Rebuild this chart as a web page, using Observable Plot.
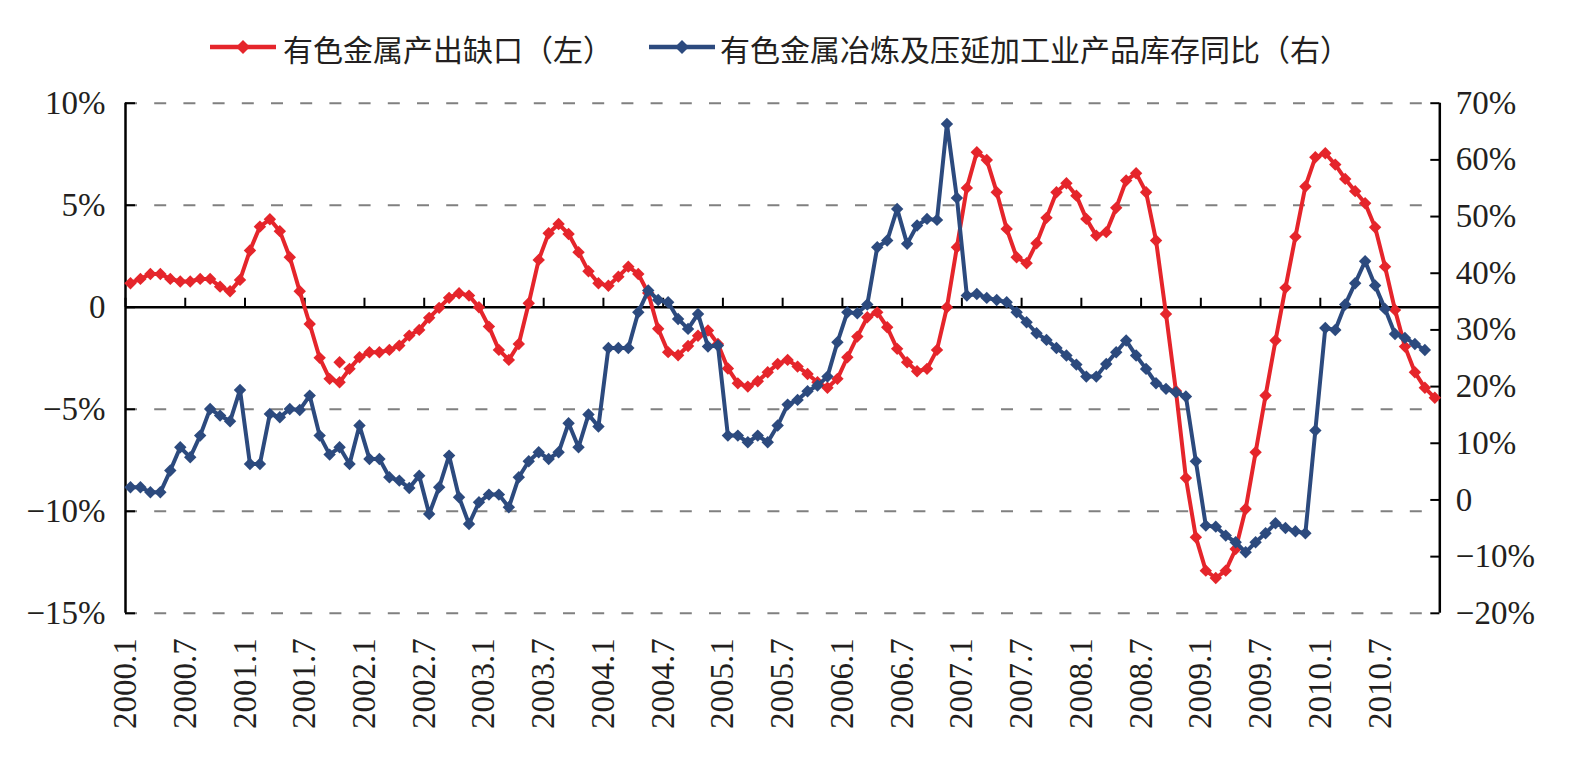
<!DOCTYPE html>
<html>
<head>
<meta charset="utf-8">
<script src="https://cdn.jsdelivr.net/npm/d3@7"></script>
<script src="https://cdn.jsdelivr.net/npm/@observablehq/plot@0.6"></script>
<style>
  html, body { margin: 0; padding: 0; background: #ffffff; }
  #page { width: 1572px; height: 757px; position: relative; overflow: hidden; }
  #legend { position: relative; height: 70px; font-family: "Noto Sans CJK SC", sans-serif; font-size: 30px; line-height: 30px; color: #231f20; }
  #legend .swatch { position: absolute; top: 37px; }
  #legend .label { position: absolute; top: 33px; white-space: nowrap; }
</style>
</head>
<body>
<div id="page">
  <div id="legend"></div>
  <div id="chart"></div>
</div>
<script>
// Monthly categories, 2000.1 – 2010.12
const years = [2000, 2001, 2002, 2003, 2004, 2005, 2006, 2007, 2008, 2009, 2010];
const months = [];
for (const y of years) for (let m = 1; m <= 12; m++) months.push(`${y}.${m}`);

// Series names
const seriesNames = ["有色金属产出缺口（左）", "有色金属冶炼及压延加工业产品库存同比（右）"];

// Non-ferrous metals output gap, % (left axis), 2000.1 – 2010.12
const outputGap = [
  1.18, 1.39, 1.63, 1.63, 1.39, 1.26, 1.26, 1.39, 1.39, 1.01, 0.78, 1.34,
  2.78, 3.95, 4.31, 3.73, 2.45, 0.78, -0.82, -2.48, -3.51, -3.68, -3.02, -2.45,
  -2.21, -2.21, -2.09, -1.88, -1.39, -1.11, -0.52, -0.03, 0.46, 0.69, 0.57, 0.00,
  -0.95, -2.09, -2.58, -1.80, 0.20, 2.32, 3.63, 4.08, 3.59, 2.70, 1.76, 1.18,
  1.05, 1.50, 1.99, 1.63, 0.70, -1.05, -2.20, -2.35, -1.90, -1.40, -1.14, -1.80,
  -3.00, -3.73, -3.89, -3.63, -3.19, -2.78, -2.58, -2.91, -3.27, -3.68, -3.95, -3.51,
  -2.45, -1.44, -0.49, -0.25, -0.98, -2.04, -2.70, -3.14, -3.02, -2.09, 0.00, 2.94,
  5.85, 7.60, 7.22, 5.64, 3.84, 2.45, 2.16, 3.14, 4.38, 5.64, 6.08, 5.47,
  4.33, 3.51, 3.68, 4.87, 6.21, 6.57, 5.64, 3.27, -0.33, -4.10, -8.37, -11.27,
  -12.91, -13.27, -12.91, -11.85, -9.89, -7.11, -4.33, -1.63, 0.95, 3.46, 5.92, 7.35,
  7.55, 6.99, 6.29, 5.69, 5.10, 3.92, 1.99, -0.13, -1.93, -3.19, -3.95, -4.44
];

// A lone output-gap marker drawn off the line
const outputGapLoneMarker = [{month: "2001.10", value: -2.70}];

// Inventory YoY of non-ferrous smelting & rolling products, % (right axis), 2000.1 – 2010.11
const inventoryYoY = [
  2.24, 2.24, 1.35, 1.35, 5.18, 9.29, 7.53, 11.35, 16.06, 14.88, 13.88, 19.41,
  6.35, 6.35, 15.18, 14.59, 16.06, 15.88, 18.41, 11.35, 8.00, 9.29, 6.35, 13.12,
  7.24, 7.24, 4.00, 3.41, 2.12, 4.29, -2.47, 2.24, 7.82, 0.47, -4.24, -0.41,
  0.94, 0.94, -1.29, 4.00, 6.82, 8.41, 7.24, 8.41, 13.53, 9.29, 15.06, 12.94,
  26.82, 26.82, 26.82, 33.12, 36.94, 35.29, 34.88, 31.94, 30.18, 32.82, 27.06, 27.24,
  11.35, 11.35, 10.18, 11.35, 10.18, 13.12, 16.82, 17.65, 19.18, 20.18, 21.76, 27.82,
  33.12, 32.94, 34.47, 44.59, 45.76, 51.35, 45.18, 48.41, 49.59, 49.41, 66.35, 53.29,
  36.06, 36.35, 35.65, 35.29, 34.88, 33.12, 31.35, 29.41, 28.24, 26.82, 25.47, 23.88,
  21.76, 21.76, 24.00, 26.06, 28.12, 25.47, 23.12, 20.59, 19.60, 19.00, 18.24, 6.82,
  -4.53, -4.71, -6.29, -7.47, -9.24, -7.47, -5.88, -4.12, -4.94, -5.53, -5.88, 12.24,
  30.35, 30.00, 34.47, 38.24, 42.12, 37.82, 33.71, 29.29, 28.59, 27.53, 26.47
];

// Axis ticks
const xTickLabels = [
  "2000.1", "2000.7", "2001.1", "2001.7", "2002.1", "2002.7", "2003.1", "2003.7",
  "2004.1", "2004.7", "2005.1", "2005.7", "2006.1", "2006.7", "2007.1", "2007.7",
  "2008.1", "2008.7", "2009.1", "2009.7", "2010.1", "2010.7"
];
const leftTicks = [-15, -10, -5, 0, 5, 10];
const rightTicks = [-20, -10, 0, 10, 20, 30, 40, 50, 60, 70];

const RED = "#e5252b";
const BLUE = "#2c4a7e";

// Right-axis values are mapped onto the left scale
const leftDomain = [-15, 10];
const rightDomain = [-20, 70];
const toLeft = (r) => leftDomain[0] + (r - rightDomain[0]) * (leftDomain[1] - leftDomain[0]) / (rightDomain[1] - rightDomain[0]);
const toRight = (l) => rightDomain[0] + (l - leftDomain[0]) * (rightDomain[1] - rightDomain[0]) / (leftDomain[1] - leftDomain[0]);

const pct = (v) => v === 0 ? "0" : (v < 0 ? "\u2212" + Math.abs(v) : String(v)) + "%";

const gapData = outputGap.map((v, i) => ({month: months[i], value: v}));
const invData = inventoryYoY.map((v, i) => ({month: months[i], value: v}));

// Legend
const legend = document.getElementById("legend");
function addLegendItem(color, name, swatchLeft, textLeft) {
  const ns = "http://www.w3.org/2000/svg";
  const svg = document.createElementNS(ns, "svg");
  svg.setAttribute("class", "swatch");
  svg.setAttribute("width", 66);
  svg.setAttribute("height", 20);
  svg.style.left = swatchLeft + "px";
  const line = document.createElementNS(ns, "line");
  line.setAttribute("x1", 0); line.setAttribute("x2", 66);
  line.setAttribute("y1", 10); line.setAttribute("y2", 10);
  line.setAttribute("stroke", color); line.setAttribute("stroke-width", 4.5);
  svg.appendChild(line);
  const dia = document.createElementNS(ns, "path");
  dia.setAttribute("d", "M33,3L40,10L33,17L26,10Z");
  dia.setAttribute("fill", color);
  svg.appendChild(dia);
  legend.appendChild(svg);
  const span = document.createElement("span");
  span.className = "label";
  span.style.left = textLeft + "px";
  span.textContent = name;
  legend.appendChild(span);
}
addLegendItem(RED, seriesNames[0], 210, 283);
addLegendItem(BLUE, seriesNames[1], 649, 720);

// Chart
const W = 1572, H = 687;
const mLeft = 125, mRight = 132.7, mTop = 32.7, mBottom = 144.2;
const step = (W - mLeft - mRight) / months.length;
const firstMonth = months[0], lastMonth = months[months.length - 1];
const boundaryMonths = months.filter((m, i) => i % 6 === 0);

const chart = Plot.plot({
  width: W,
  height: H,
  marginLeft: mLeft,
  marginRight: mRight,
  marginTop: mTop,
  marginBottom: mBottom,
  style: {fontFamily: "'Liberation Serif', 'Times New Roman', serif", fontSize: "33px", color: "#231f20", background: "#ffffff"},
  x: {type: "point", domain: months, padding: 0.5, axis: null, label: null},
  y: {domain: leftDomain, axis: null, label: null},
  marks: [
    // dashed gridlines
    Plot.ruleY(leftTicks.filter((d) => d !== 0), {stroke: "#808080", strokeWidth: 2, strokeDasharray: "12,17.2"}),
    // zero line
    Plot.ruleY([0], {stroke: "#000000", strokeWidth: 2.5}),
    // category tick marks on the zero line
    Plot.ruleX(boundaryMonths, {x: (d) => d, y1: 0, y2: 0, dx: -step / 2, insetTop: -9, stroke: "#000000", strokeWidth: 2}),
    // left and right axis lines
    Plot.ruleX([firstMonth], {x: (d) => d, dx: -step / 2, stroke: "#000000", strokeWidth: 2.5}),
    Plot.ruleX([lastMonth], {x: (d) => d, dx: step / 2, stroke: "#000000", strokeWidth: 2.5}),
    // inward ticks
    Plot.ruleY(leftTicks, {x1: () => firstMonth, x2: () => firstMonth, dx: -step / 2, insetRight: -10, stroke: "#000000", strokeWidth: 2}),
    Plot.ruleY(rightTicks.map(toLeft), {x1: () => lastMonth, x2: () => lastMonth, dx: step / 2, insetLeft: -9, stroke: "#000000", strokeWidth: 2}),
    // axis labels
    Plot.axisY({anchor: "left", ticks: leftTicks, tickSize: 0, tickPadding: 20, tickFormat: pct, fill: "#231f20", label: null}),
    Plot.axisY({anchor: "right", ticks: rightTicks.map(toLeft), tickSize: 0, tickPadding: 16, tickFormat: (d) => pct(Math.round(toRight(d))), fill: "#231f20", label: null}),
    Plot.axisX({anchor: "bottom", ticks: xTickLabels, tickSize: 0, tickPadding: 25, tickRotate: -90, dx: -5, fill: "#231f20", label: null}),
    // output gap (left)
    Plot.line(gapData, {x: "month", y: "value", stroke: RED, strokeWidth: 4}),
    Plot.dot(gapData, {x: "month", y: "value", symbol: "diamond2", r: 5.6, fill: RED, stroke: "none"}),
    Plot.dot(outputGapLoneMarker, {x: "month", y: "value", symbol: "diamond2", r: 5.6, fill: RED, stroke: "none"}),
    // inventory YoY (right)
    Plot.line(invData, {x: "month", y: (d) => toLeft(d.value), stroke: BLUE, strokeWidth: 4}),
    Plot.dot(invData, {x: "month", y: (d) => toLeft(d.value), symbol: "diamond2", r: 5.6, fill: BLUE, stroke: "none"})
  ]
});
document.getElementById("chart").appendChild(chart);
</script>
</body>
</html>
